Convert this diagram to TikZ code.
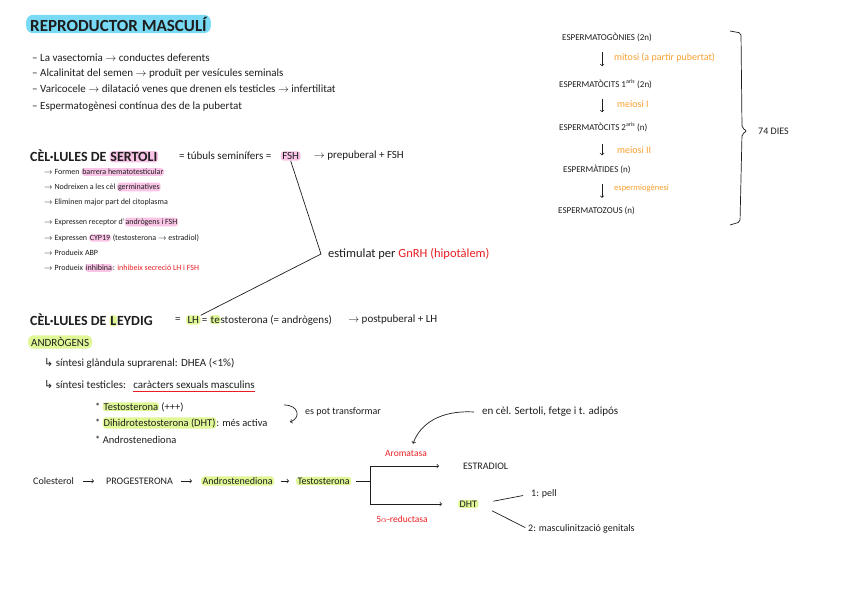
\documentclass[tikz,border=0pt]{standalone}
\usepackage{fontspec}
\setmainfont{Carlito}
\newfontfamily\symfont{DejaVu Sans}
\usetikzlibrary{arrows}
\usetikzlibrary{positioning}
\definecolor{ink}{RGB}{30,30,30}
\definecolor{hlcyan}{RGB}{120,218,245}
\definecolor{hlpink}{RGB}{250,196,230}
\definecolor{hlgreen}{RGB}{224,247,150}
\definecolor{notered}{RGB}{232,30,36}
\definecolor{noteorange}{RGB}{247,160,48}
\newcommand{\hl}[2]{\tikz[baseline=(hl.base)]\node[mark_n, fill=#1] (hl) {#2};}
\tikzset{
  txt/.style = {inner sep=0pt, anchor=west, text=ink},
  titol_n/.style = {txt, font=\fontsize{17}{19}\selectfont\bfseries,
    fill=hlcyan, rounded corners=7pt, inner xsep=4pt, inner ysep=2pt},% titol
  head_n/.style = {txt, font=\fontsize{14}{16}\selectfont\bfseries},% cel.lules
  body_n/.style = {txt, font=\fontsize{11}{13}\selectfont},
  via_n/.style = {txt, font=\fontsize{10}{12}\selectfont},% via de sintesi
  petit_n/.style = {txt, font=\fontsize{8}{10}\selectfont},% llista sertoli
  stage_n/.style = {txt, font=\fontsize{9}{11}\selectfont},% espermatogenesi
  proces_n/.style = {txt, text=noteorange, font=\fontsize{10}{12}\selectfont},
  enzim_n/.style = {txt, anchor=center, text=notered, font=\fontsize{9.5}{11}\selectfont},
  mark_n/.style = {inner xsep=0.8pt, inner ysep=1pt, rounded corners=3pt},
  mark_g/.style = {fill=hlgreen, inner xsep=1.5pt, inner ysep=1pt, rounded corners=3pt},
  mark_p/.style = {fill=hlpink, inner xsep=1.5pt, inner ysep=1pt, rounded corners=3pt},
  line/.style = {draw=ink, line width=0.7pt},
  arr/.style = {line, ->},
  subratlla/.style = {color=notered, line width=1.3pt},% subratllat vermell
}
\begin{document}
\begin{tikzpicture}[x=1pt,y=-1pt,>=to]
\fill[white] (0,0) rectangle (848,599);
\useasboundingbox (0,0) rectangle (848,599);

% titol i apunts
\node[titol_n] (titol) at (26,24) {REPRODUCTOR MASCULÍ};
\node[body_n] (b1) at (32,58) {– La vasectomia $\to$ conductes deferents};
\node[body_n] (b2) at (32,74) {– Alcalinitat del semen $\to$ produït per vesícules seminals};
\node[body_n] (b3) at (32,90) {– Varicocele $\to$ dilatació venes que drenen els testicles $\to$ infertilitat};
\node[body_n] (b4) at (32,107) {– Espermatogènesi contínua des de la pubertat};

% sertoli
\node[head_n] (sert) at (30,156) {CÈL·LULES DE \hl{hlpink}{SERTOLI}};
\node[body_n] (tub) at (179,156) {= túbuls seminífers =};
\node[body_n, mark_p, right=9pt of tub] (fsh) {FSH};
\node[body_n, right=13pt of fsh] (prep) {$\to$ prepuberal + FSH};
\node[petit_n] (s1) at (44,172) {$\to$ Formen \hl{hlpink}{barrera hematotesticular}};
\node[petit_n] (s2) at (44,187) {$\to$ Nodreixen a les cèl \hl{hlpink}{germinatives}};
\node[petit_n] (s3) at (44,202) {$\to$ Eliminen major part del citoplasma};
\node[petit_n] (s4) at (44,222) {$\to$ Expressen receptor d'\hl{hlpink}{andrògens i FSH}};
\node[petit_n] (s5) at (44,238) {$\to$ Expressen \hl{hlpink}{CYP19} (testosterona $\to$ estradiol)};
\node[petit_n] (s6) at (44,253) {$\to$ Produeix ABP};
\node[petit_n] (s7) at (44,268) {$\to$ Produeix \hl{hlpink}{inhibina}: \textcolor{notered}{inhibeix secreció LH i FSH}};
\node[body_n, font=\fontsize{12.5}{14}\selectfont] (estim) at (328,254) {estimulat per \textcolor{notered}{GnRH (hipotàlem)}};

% leydig
\node[head_n] (ley) at (30,320) {CÈL·LULES DE \hl{hlgreen}{L}EYDIG};
\node[body_n] (igual) at (175,320) {=};
\node[body_n, mark_g, right=5pt of igual] (lh) {LH};
\node[body_n, right=1pt of lh] (tst) {= \hl{hlgreen}{te}stosterona (= andrògens)};
\node[body_n, right=16pt of tst] (postp) {$\to$ postpuberal + LH};
\draw[line] (fsh.south) -- ([xshift=-7pt]estim.west) -- (lh.north east);

% androgens
\node[body_n, fill=hlgreen, rounded corners=5pt, inner xsep=3pt, inner ysep=2pt] (andr) at (28,342) {ANDRÒGENS};
\node[body_n] (sint1) at (44,363) {{\symfont ↳} síntesi glàndula suprarenal: DHEA (<1\%)};
\node[body_n] (sint2) at (44,385) {{\symfont ↳} síntesi testicles:};
\node[body_n, right=7pt of sint2] (carac) {caràcters sexuals masculins};
\coordinate (sub1) at ([yshift=-2.5pt]carac.south west);
\coordinate (sub2) at ([yshift=-2.5pt]carac.south east);
\draw[subratlla] (sub1) -- (sub2);
\node[via_n, font=\fontsize{10.5}{12}\selectfont] (t1) at (95,407) {* \hl{hlgreen}{Testosterona} (+++)};
\node[via_n, font=\fontsize{10.5}{12}\selectfont] (t2) at (95,423) {* \hl{hlgreen}{Dihidrotestosterona (DHT)}: més activa};
\node[via_n, font=\fontsize{10.5}{12}\selectfont] (t3) at (95,440) {* Androstenediona};
\node[via_n] (trf) at (305,412) {es pot transformar};
\draw[arr] ([xshift=-21pt,yshift=7pt]trf.west) .. controls (299,405) and (301,418) .. (290,422);

% via de sintesi
\node[via_n] (col) at (33,481) {Colesterol};
\node[via_n] (prog) at (106,481) {PROGESTERONA};
\node[via_n, mark_g] (andro) at (201,481) {Androstenediona};
\node[via_n, mark_g] (testo) at (296,481) {Testosterona};
\coordinate (forca) at (370,481);
\node[via_n] (estr) at (463,466) {ESTRADIOL};
\node[via_n, mark_g] (dht) at (458,504) {DHT};
\node[enzim_n] (arom) at (406,453) {Aromatasa};
\node[enzim_n] (red5) at (402,519) {5$\alpha$-reductasa};
\node[body_n] (sf) at (482,412) {en cèl. Sertoli, fetge i t. adipós};
\node[via_n] (pell) at (531,494) {1: pell};
\node[via_n] (genit) at (528,529) {2: masculinització genitals};
\draw[arr, shorten <=9pt, shorten >=12pt] (col) -- (prog);
\draw[arr, shorten <=8pt, shorten >=9pt] (prog) -- (andro);
\draw[arr, shorten <=7pt, shorten >=7pt] (andro) -- (testo);
\draw[line, shorten <=5pt] (testo.east) -- (forca);
\draw[arr, shorten >=24pt] (forca) |- (estr.west);
\draw[arr, shorten >=16pt] (forca) |- (dht.west);
\draw[arr] ([xshift=-8pt]sf.west) .. controls (440,410) and (420,424) .. ([xshift=7pt,yshift=6pt]arom.north);
\draw[line, shorten <=15pt, shorten >=8pt] (dht.east) -- (pell.west);
\draw[line, shorten <=15pt, shorten >=3pt] (dht.east) -- (genit.west);

% espermatogenesi
\coordinate (fl) at (602,0);
\node[stage_n] (e1) at (562,37) {ESPERMATOGÒNIES (2n)};
\node[stage_n] (e2) at (559,84) {ESPERMATÒCITS 1\textsuperscript{aris} (2n)};
\node[stage_n] (e3) at (559,127) {ESPERMATÒCITS 2\textsuperscript{aris} (n)};
\node[stage_n] (e4) at (563,169) {ESPERMÀTIDES (n)};
\node[stage_n] (e5) at (558,211) {ESPERMATOZOUS (n)};
\node[proces_n] (p1) at (614,58) {mitosi (a partir pubertat)};
\node[proces_n] (p2) at (617,104) {meiosi I};
\node[proces_n] (p3) at (617,150) {meiosi II};
\node[proces_n, font=\fontsize{8.5}{10}\selectfont] (p4) at (614,188) {espermiogènesi};
\draw[arr, shorten <=10pt, shorten >=13pt] (e1.south -| fl) -- (e2.north -| fl);
\draw[arr, shorten <=10pt, shorten >=10pt] (e2.south -| fl) -- (e3.north -| fl);
\draw[arr, shorten <=12pt, shorten >=9pt] (e3.south -| fl) -- (e4.north -| fl);
\draw[arr, shorten <=10pt, shorten >=9pt] (e4.south -| fl) -- (e5.north -| fl);
\draw[line, rounded corners=2pt] (730,31) -- (741,33) -- (742,128) -- (747,131) -- (742,134) -- (740,222) -- (730,225);
\node[body_n, font=\fontsize{10}{12}\selectfont] (dies) at (758,131) {74 DIES};
\end{tikzpicture}
\end{document}
